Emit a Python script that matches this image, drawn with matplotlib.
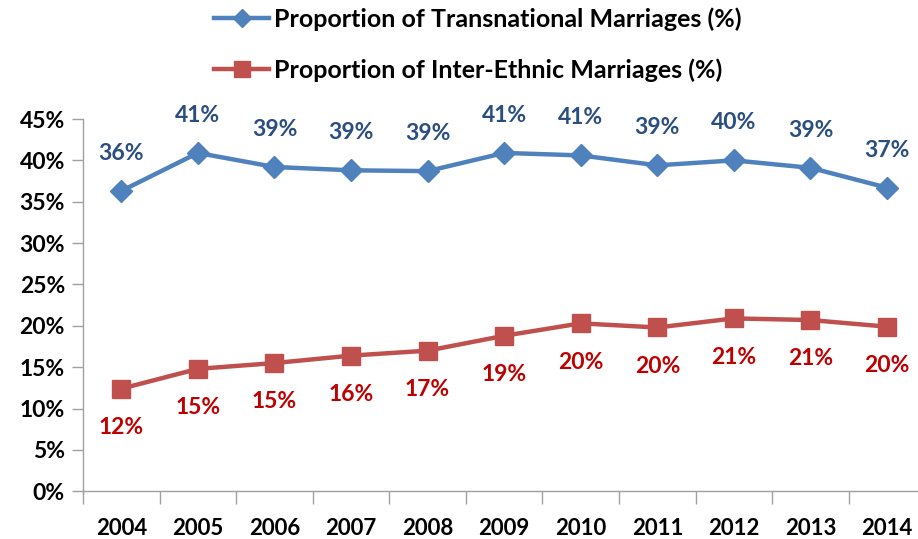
import matplotlib.pyplot as plt

years = ['2004', '2005', '2006', '2007', '2008', '2009', '2010', '2011', '2012', '2013', '2014']
transnational = [36.3, 40.9, 39.2, 38.8, 38.7, 40.9, 40.6, 39.4, 40.0, 39.1, 36.7]
inter_ethnic = [12.4, 14.8, 15.5, 16.4, 17.0, 18.8, 20.3, 19.8, 20.9, 20.7, 19.9]
trans_labels = ['36%', '41%', '39%', '39%', '39%', '41%', '41%', '39%', '40%', '39%', '37%']
inter_labels = ['12%', '15%', '15%', '16%', '17%', '19%', '20%', '20%', '21%', '21%', '20%']

plt.rcParams['font.family'] = ['Lato', 'DejaVu Sans']
plt.rcParams['font.weight'] = 'bold'

fig = plt.figure(figsize=(9.18, 5.39), dpi=100)
ax = fig.add_axes([0.0904, 0.0885, 0.9176, 0.6907])

x = list(range(len(years)))
ax.plot(x, transnational, color='#4F81BD', lw=3.2, marker='D', ms=11,
        label='Proportion of Transnational Marriages (%)')
ax.plot(x, inter_ethnic, color='#C0504D', lw=3.2, marker='s', ms=13,
        label='Proportion of Inter-Ethnic Marriages (%)')

for i in x:
    ax.annotate(trans_labels[i], (i, transnational[i]), xytext=(0, 27), textcoords='offset points',
                ha='center', va='center', fontsize=16.5, fontweight='bold', color='#2A4E80')
    ax.annotate(inter_labels[i], (i, inter_ethnic[i]), xytext=(0, -28), textcoords='offset points',
                ha='center', va='center', fontsize=16.5, fontweight='bold', color='#C00000')

ax.set_xlim(-0.5, len(years) - 0.5)
ax.set_ylim(0, 45)
ax.set_yticks(range(0, 50, 5))
ax.set_yticklabels([f'{v}%' for v in range(0, 50, 5)])
ax.set_xticks(x)
ax.set_xticklabels(years)
ax.set_xticks([i - 0.5 for i in range(len(years) + 1)], minor=True)
ax.tick_params(axis='x', which='major', length=0, pad=19, labelsize=16)
ax.tick_params(axis='x', which='minor', length=9, width=1, color='#A0A0A0', direction='out')
ax.tick_params(axis='y', length=8, width=1, color='#A0A0A0', labelsize=16.5, pad=5)
for lab in ax.get_xticklabels() + ax.get_yticklabels():
    lab.set_fontweight('bold')

for s in ['top', 'right']:
    ax.spines[s].set_visible(False)
for s in ['left', 'bottom']:
    ax.spines[s].set_color('#A0A0A0')
    ax.spines[s].set_linewidth(1)

leg = fig.legend(loc='upper left', bbox_to_anchor=(214 / 918, 1 - 7 / 539), frameon=False,
                 fontsize=18, handlelength=2.2, handletextpad=0.2, labelspacing=1.1,
                 markerscale=0.85, borderpad=0, borderaxespad=0)
for t in leg.get_texts():
    t.set_fontweight('bold')

fig.savefig('out.png', dpi=100)
